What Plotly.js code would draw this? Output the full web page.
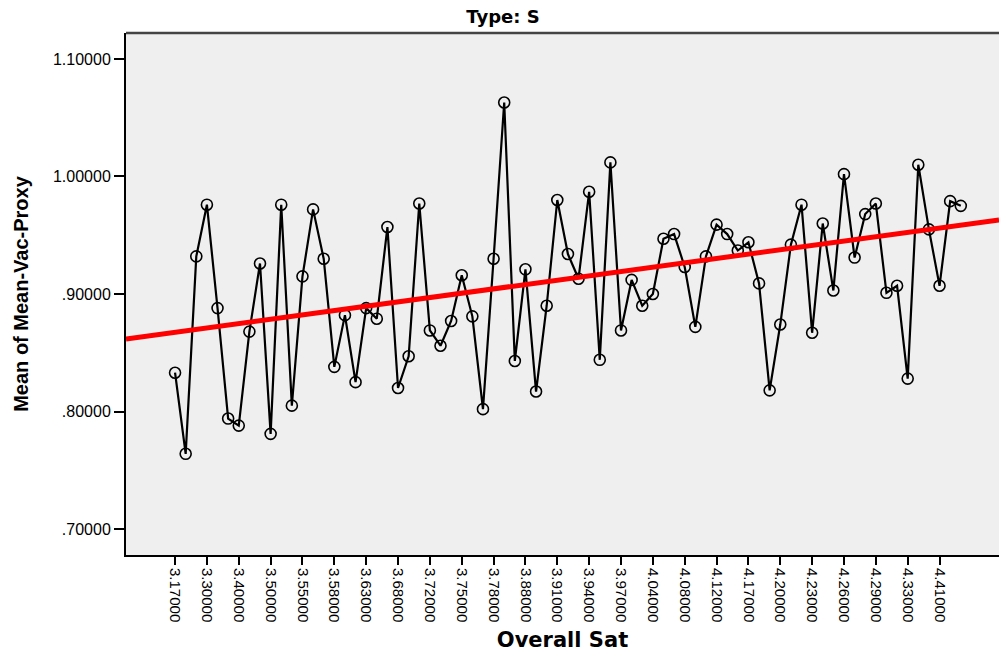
<!DOCTYPE html>
<html>
<head>
<meta charset="utf-8">
<script src="https://cdn.plot.ly/plotly-3.0.1.min.js"></script>
<style>html,body{margin:0;padding:0;background:#fff;}#chart{width:999px;height:652px;}</style>
</head>
<body>
<div id="chart"></div>
<script>
// Overall Sat categories (x axis, categorical)
const categories = [
  "3.17000","3.20000","3.25000","3.30000","3.33000","3.36000","3.40000","3.44000","3.47000",
  "3.50000","3.52000","3.53000","3.55000","3.56000","3.57000","3.58000","3.60000","3.61000",
  "3.63000","3.65000","3.66000","3.68000","3.69000","3.70000","3.72000","3.73000","3.74000",
  "3.75000","3.76000","3.77000","3.78000","3.81000","3.84000","3.88000","3.89000","3.90000",
  "3.91000","3.92000","3.93000","3.94000","3.95000","3.96000","3.97000","4.00000","4.02000",
  "4.04000","4.05000","4.06000","4.08000","4.09000","4.10000","4.12000","4.13000","4.15000",
  "4.17000","4.18000","4.19000","4.20000","4.21000","4.22000","4.23000","4.24000","4.25000",
  "4.26000","4.27000","4.28000","4.29000","4.30000","4.31000","4.33000","4.35000","4.38000",
  "4.41000","4.43000","4.46000"
];
// Mean of Mean-Vac-Proxy
const meanVacProxy = [
  0.833,0.764,0.932,0.976,0.888,0.794,0.788,0.868,0.926,
  0.781,0.976,0.805,0.915,0.972,0.930,0.838,0.882,0.825,
  0.888,0.879,0.957,0.820,0.847,0.977,0.869,0.856,0.877,
  0.916,0.881,0.802,0.930,1.063,0.843,0.921,0.817,0.890,
  0.980,0.934,0.913,0.987,0.844,1.012,0.869,0.912,0.890,
  0.900,0.947,0.951,0.923,0.872,0.932,0.959,0.951,0.937,
  0.944,0.909,0.818,0.874,0.942,0.976,0.867,0.960,0.903,
  1.002,0.931,0.968,0.977,0.901,0.907,0.828,1.010,0.955,
  0.907,0.979,0.975
];
// Labelled x ticks
const xTickLabels = [
  "3.17000","3.30000","3.40000","3.50000","3.55000","3.58000","3.63000","3.68000","3.72000",
  "3.75000","3.78000","3.88000","3.91000","3.94000","3.97000","4.04000","4.08000","4.12000",
  "4.17000","4.20000","4.23000","4.26000","4.29000","4.33000","4.41000"
];
// y ticks
const yTickVals = [0.7, 0.8, 0.9, 1.0, 1.1];
const yTickText = [".70000", ".80000", ".90000", "1.00000", "1.10000"];
// Linear fit line (in category-index units)
const fitIntercept = 0.8674;
const fitSlope = 0.001232;

const xRange = [-4.62, 77.6];
const yRange = [0.6779, 1.1221];

const fitX = [xRange[0], xRange[1]];
const fitY = fitX.map(v => fitIntercept + fitSlope * v);

const font = "Liberation Sans, Arial, sans-serif";

const traces = [
  {
    type: "scatter", mode: "lines", x: fitX, y: fitY, xaxis: "x2", yaxis: "y",
    line: {color: "#ff0000", width: 5}, hoverinfo: "skip", showlegend: false
  },
  {
    type: "scatter", mode: "lines+markers", x: categories, y: meanVacProxy,
    line: {color: "#000000", width: 2.2},
    marker: {symbol: "circle-open", size: 11, color: "#000000", line: {width: 1.6, color: "#000000"}},
    showlegend: false
  }
];

const layout = {
  width: 999, height: 652,
  margin: {l: 126, r: 0, t: 33, b: 97, pad: 0},
  paper_bgcolor: "#ffffff",
  plot_bgcolor: "#efefef",
  font: {family: font, color: "#000"},
  title: {
    text: "Type: S", font: {family: "DejaVu Sans, sans-serif", size: 18, weight: "bold", color: "#000"},
    x: 503/999, xref: "container", xanchor: "center", y: 1 - 17/652, yref: "container", yanchor: "middle"
  },
  xaxis: {
    type: "category", categoryorder: "array", categoryarray: categories,
    range: xRange, autorange: false,
    tickmode: "array", tickvals: xTickLabels, ticktext: xTickLabels,
    tickangle: 90, tickfont: {family: font, size: 15, color: "#000"},
    ticks: "outside", ticklen: 8, tickwidth: 2, tickcolor: "#000",
    showline: true, linecolor: "#000", linewidth: 2, mirror: false,
    showgrid: false, zeroline: false,
    title: {text: "Overall Sat", font: {family: "DejaVu Sans, sans-serif", size: 21, weight: "bold", color: "#000"}, standoff: 14}
  },
  xaxis2: {
    type: "linear", overlaying: "x", range: xRange, autorange: false, visible: false,
    showgrid: false, zeroline: false
  },
  yaxis: {
    range: yRange, autorange: false,
    tickmode: "array", tickvals: yTickVals, ticktext: yTickText,
    tickfont: {family: font, size: 16, color: "#000"},
    ticks: "outside", ticklen: 10, tickwidth: 2, tickcolor: "#000",
    showline: true, linecolor: "#000", linewidth: 2,
    showgrid: false, zeroline: false,
    title: {text: "Mean of Mean-Vac-Proxy", font: {family: font, size: 20, weight: "bold", color: "#000"}, standoff: 19}
  },
  shapes: [
    {type: "line", xref: "paper", yref: "paper", x0: 0, x1: 1, y0: 1, y1: 1, line: {color: "#444444", width: 2.5}}
  ]
};

Plotly.newPlot("chart", traces, layout, {displayModeBar: false, staticPlot: true});
</script>
</body>
</html>
